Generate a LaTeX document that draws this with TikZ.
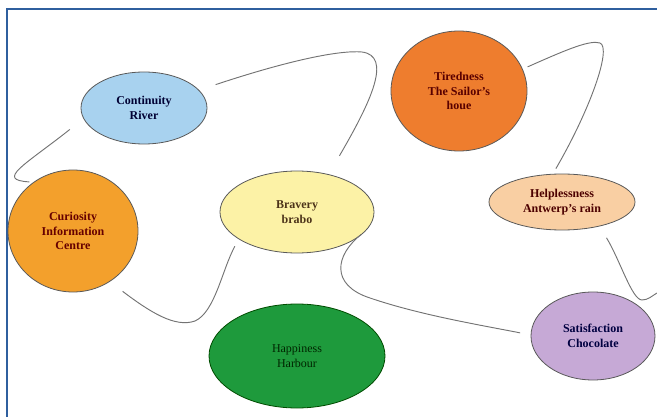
\documentclass[tikz,border=0pt]{standalone}
\usepackage{fontspec}
\setmainfont{Liberation Serif}
\usetikzlibrary{shapes.geometric}

\definecolor{frameblue}{HTML}{2F5F9E}
\definecolor{riverfill}{HTML}{A8D2EF}
\definecolor{centrefill}{HTML}{F3A02C}
\definecolor{brabofill}{HTML}{FCF2A6}
\definecolor{housefill}{HTML}{EE7D2E}
\definecolor{rainfill}{HTML}{F9CFA3}
\definecolor{chocfill}{HTML}{C6A9D6}
\definecolor{harbourfill}{HTML}{1E9A3C}

\begin{document}
\begin{tikzpicture}[x=0.75pt, y=-0.75pt,
    mood/.style={ellipse, draw=black!65, line width=0.6pt, inner sep=0pt, align=center,
        font=\fontsize{9}{11}\selectfont\bfseries},
    link/.style={draw=black!55, line width=0.7pt}]
    \useasboundingbox (0,0) rectangle (657,417);

    % Frame (left and top edges only)
    \draw[frameblue, line width=1.5pt] (7,417) -- (7,9) -- (657,9);

    % Places
    \node[mood, fill=riverfill, minimum width=94.5pt, minimum height=54pt, text=blue!20!black] (river) at (144,108) {Continuity\\River};
    \node[mood, fill=centrefill, minimum width=97.5pt, minimum height=91.5pt, text=red!40!black] (centre) at (73,231) {Curiosity\\Information\\Centre};
    \node[mood, fill=brabofill, minimum width=115.5pt, minimum height=61.5pt, text=brown!40!black] (brabo) at (297,212) {Bravery\\brabo};
    \node[mood, fill=housefill, minimum width=102pt, minimum height=90pt, text=red!35!black] (house) at (459,91) {Tiredness\\The Sailor's\\houe};
    \node[mood, fill=rainfill, minimum width=109.5pt, minimum height=42pt, text=red!30!black] (rain) at (562,202) {Helplessness\\Antwerp's rain};
    \node[mood, fill=chocfill, minimum width=93pt, minimum height=66pt, text=blue!25!black] (choc) at (593,336) {Satisfaction\\Chocolate};
    \node[mood, fill=harbourfill, draw=green!30!black, minimum width=132pt, minimum height=78pt, text=green!15!black, font=\fontsize{9}{11}\selectfont] (harbour) at (297,356) {Happiness\\Harbour};

    % Winding links
    \draw[link, shorten <=13pt, shorten >=3pt] (river.190) .. controls (25,165) and (-5,180) .. (centre.129);
    \draw[link, shorten <=13pt, shorten >=16pt] (river.18) .. controls (290,60) and (340,50) .. (362,52)
        .. controls (392,56) and (372,100) .. (brabo.50);
    \draw[link, shorten <=4pt, shorten >=4.5pt] (house.19) .. controls (570,48) and (590,40) .. (600,43)
        .. controls (612,48) and (590,110) .. (rain.108);
    \draw[link, shorten <=12pt, shorten >=6pt] (centre.-54) .. controls (150,312) and (175,328) .. (195,321)
        .. controls (215,312) and (222,270) .. (brabo.205);
    \draw[link, shorten <=4.5pt, shorten >=8pt] (brabo.-15) .. controls (335,255) and (330,285) .. (370,298)
        .. controls (420,315) and (480,325) .. (choc.179);
    \draw[link, shorten <=10pt, shorten >=17pt] (rain.-33) .. controls (620,260) and (632,300) .. (642,300)
        .. controls (648,300) and (652,296) .. (choc.35);
\end{tikzpicture}
\end{document}
